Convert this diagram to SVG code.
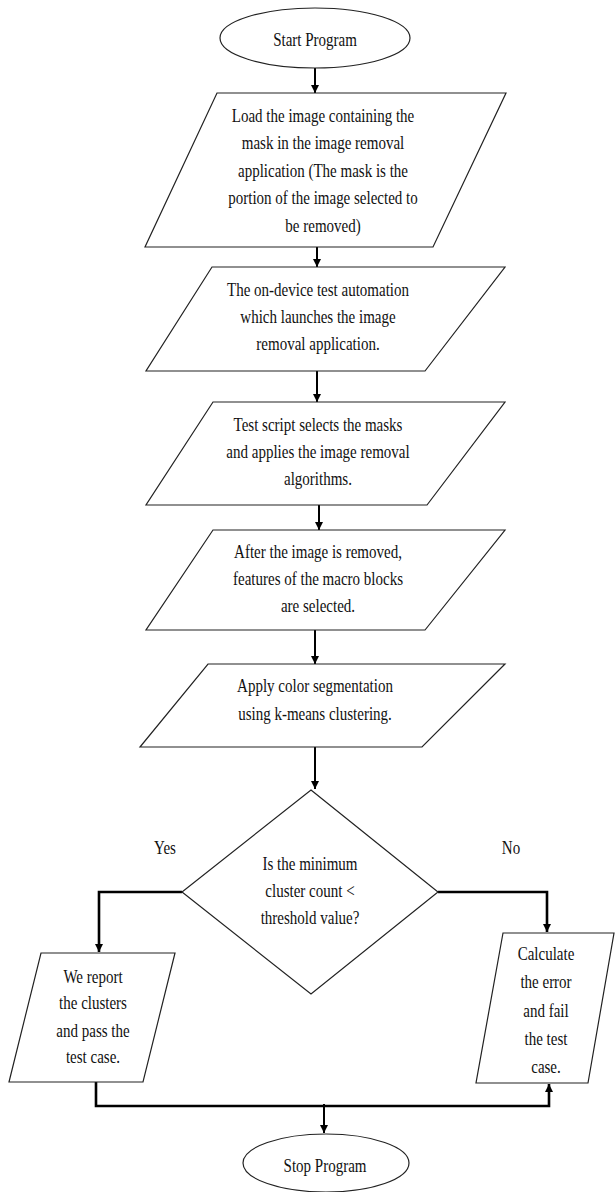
<svg xmlns="http://www.w3.org/2000/svg" width="616" height="1192" viewBox="0 0 616 1192">
<style>
.shape{fill:#fff;stroke:#222;stroke-width:1.2}
.t{font-family:"Liberation Serif","Times New Roman",serif;font-size:19px;text-anchor:middle;fill:#111}
.c{fill:none;stroke:#000;stroke-width:2}
.h{fill:none;stroke:#000;stroke-width:2.6}
</style>
<defs>
<marker id="ah" viewBox="0 0 10 10" refX="10" refY="5" markerWidth="8" markerHeight="9" markerUnits="userSpaceOnUse" orient="auto">
<path d="M0,0 L10,5 L0,10 z" fill="#000"/>
</marker>
</defs>
<rect width="616" height="1192" fill="#fff"/>

<g id="connectors">
<line class="c" x1="315" y1="68" x2="315" y2="93" marker-end="url(#ah)"/>
<line class="c" x1="317" y1="247" x2="317" y2="267" marker-end="url(#ah)"/>
<line class="c" x1="317" y1="371" x2="317" y2="402" marker-end="url(#ah)"/>
<line class="c" x1="319" y1="505" x2="319" y2="530" marker-end="url(#ah)"/>
<line class="c" x1="315" y1="630" x2="315" y2="664" marker-end="url(#ah)"/>
<line class="c" x1="315" y1="747" x2="315" y2="789" marker-end="url(#ah)"/>
<polyline class="h" points="182,892 99,892 99,952" marker-end="url(#ah)"/>
<polyline class="h" points="438,892 547,892 547,932" marker-end="url(#ah)"/>
<polyline class="h" points="96,1072 96,1106 549,1106 549,1084" marker-end="url(#ah)"/>
<line class="c" x1="324" y1="1104" x2="324" y2="1133" marker-end="url(#ah)"/>
</g>

<g id="start">
<ellipse class="shape" cx="315" cy="38" rx="95" ry="30"/>
<g transform="translate(315 0) scale(0.79 1)"><text class="t" x="0" y="46">Start Program</text></g>
</g>

<g id="load">
<polygon class="shape" points="217,93 506,93 433,247 145,247"/>
<g transform="translate(323 0) scale(0.79 1)">
<text class="t" x="0" y="122">Load the image containing the</text>
<text class="t" x="0" y="149.5">mask in the image removal</text>
<text class="t" x="0" y="177">application (The mask is the</text>
<text class="t" x="0" y="204.5">portion of the image selected to</text>
<text class="t" x="0" y="232">be removed)</text>
</g>
</g>

<g id="launch">
<polygon class="shape" points="212,267 505,267 425,371 146,371"/>
<g transform="translate(318 0) scale(0.79 1)">
<text class="t" x="0" y="296">The on-device test automation</text>
<text class="t" x="0" y="323">which launches the image</text>
<text class="t" x="0" y="350">removal application.</text>
</g>
</g>

<g id="select">
<polygon class="shape" points="213,402 505,402 427,505 146,505"/>
<g transform="translate(318 0) scale(0.79 1)">
<text class="t" x="0" y="431">Test script selects the masks</text>
<text class="t" x="0" y="458">and applies the image removal</text>
<text class="t" x="0" y="485">algorithms.</text>
</g>
</g>

<g id="features">
<polygon class="shape" points="213,530 505,530 425,630 146,630"/>
<g transform="translate(318 0) scale(0.79 1)">
<text class="t" x="0" y="558">After the image is removed,</text>
<text class="t" x="0" y="585">features of the macro blocks</text>
<text class="t" x="0" y="612">are selected.</text>
</g>
</g>

<g id="segment">
<polygon class="shape" points="208,664 505,664 422,747 140,747"/>
<g transform="translate(315 0) scale(0.79 1)">
<text class="t" x="0" y="692">Apply color segmentation</text>
<text class="t" x="0" y="720">using k-means clustering.</text>
</g>
</g>

<g id="decision">
<polygon class="shape" points="311,790 438,892 311,994 182,892"/>
<g transform="translate(310 0) scale(0.79 1)">
<text class="t" x="0" y="870">Is the minimum</text>
<text class="t" x="0" y="897">cluster count &lt;</text>
<text class="t" x="0" y="924">threshold value?</text>
</g>
</g>

<g id="labels">
<g transform="translate(165 0) scale(0.79 1)"><text class="t" x="0" y="854">Yes</text></g>
<g transform="translate(511 0) scale(0.79 1)"><text class="t" x="0" y="854">No</text></g>
</g>

<g id="pass">
<polygon class="shape" points="41,953 175,953 143,1082 9,1082"/>
<g transform="translate(93 0) scale(0.79 1)">
<text class="t" x="0" y="983">We report</text>
<text class="t" x="0" y="1009">the clusters</text>
<text class="t" x="0" y="1037">and pass the</text>
<text class="t" x="0" y="1063">test case.</text>
</g>
</g>

<g id="fail">
<polygon class="shape" points="503,933 614,933 588,1083 476,1083"/>
<g transform="translate(546 0) scale(0.79 1)">
<text class="t" x="0" y="960">Calculate</text>
<text class="t" x="0" y="988">the error</text>
<text class="t" x="0" y="1017">and fail</text>
<text class="t" x="0" y="1045">the test</text>
<text class="t" x="0" y="1073">case.</text>
</g>
</g>

<g id="stop">
<ellipse class="shape" cx="326" cy="1163" rx="83" ry="29"/>
<g transform="translate(325 0) scale(0.79 1)"><text class="t" x="0" y="1172">Stop Program</text></g>
</g>
</svg>
